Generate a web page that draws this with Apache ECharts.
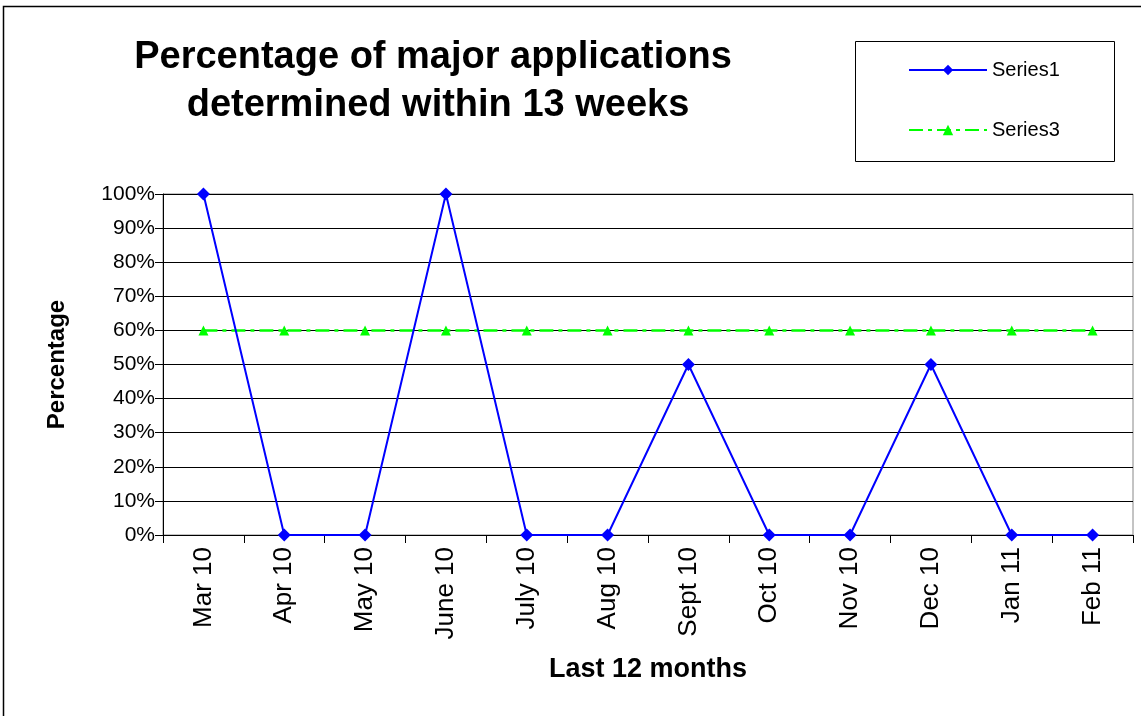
<!DOCTYPE html>
<html>
<head>
<meta charset="utf-8">
<script src="https://cdn.jsdelivr.net/npm/echarts@6/dist/echarts.min.js"></script>
<style>
html,body{margin:0;padding:0;background:#fff;}
#c{width:1141px;height:716px;}
</style>
</head>
<body>
<div id="c"></div>
<script>
const categories = ['Mar 10','Apr 10','May 10','June 10','July 10','Aug 10','Sept 10','Oct 10','Nov 10','Dec 10','Jan 11','Feb 11'];
const series1 = [1, 0, 0, 1, 0, 0, 0.5, 0, 0, 0.5, 0, 0];
const series3 = [0.6, 0.6, 0.6, 0.6, 0.6, 0.6, 0.6, 0.6, 0.6, 0.6, 0.6, 0.6];
const titleLines = ['Percentage of major applications', 'determined within 13 weeks'];
const yAxisTitle = 'Percentage';
const xAxisTitle = 'Last 12 months';

const FONT = 'Liberation Sans, Arial, sans-serif';
const chart = echarts.init(document.getElementById('c'), null, {renderer:'canvas'});
chart.setOption({
  backgroundColor: '#fff',
  animation: false,
  graphic: [
    {type:'rect', shape:{x:3.5, y:6.5, width:1150, height:720}, style:{fill:null, stroke:'#000', lineWidth:1.5}, silent:true},
    {type:'rect', shape:{x:855.5, y:41.5, width:259, height:120}, style:{fill:'#fff', stroke:'#000', lineWidth:1}, z:-1, silent:true},
    {type:'text', x:433, y:58, silent:true,
      style:{text:titleLines[0], fontFamily:FONT, fontSize:38, fontWeight:'bold', fill:'#000', textAlign:'center', textVerticalAlign:'middle'}},
    {type:'text', x:438, y:106, silent:true,
      style:{text:titleLines[1], fontFamily:FONT, fontSize:38, fontWeight:'bold', fill:'#000', textAlign:'center', textVerticalAlign:'middle'}}
  ],
  legend: {
    orient: 'vertical',
    left: 908, top: 59, padding: 0,
    itemWidth: 78, itemHeight: 13,
    itemGap: 38,
    textStyle: {fontFamily: FONT, fontSize: 20, lineHeight: 22, color: '#000'},
    data: ['Series1','Series3']
  },
  grid: {left: 163, right: 8, top: 194, bottom: 181, show: true, borderColor: '#888', borderWidth: 1},
  xAxis: {
    type: 'category',
    data: categories,
    boundaryGap: true,
    name: xAxisTitle,
    nameLocation: 'middle',
    nameGap: 121,
    nameTextStyle: {fontFamily: FONT, fontSize: 27, fontWeight: 'bold', color: '#000'},
    axisLine: {lineStyle: {color: '#000', width: 1}},
    axisTick: {show: true, alignWithLabel: false, length: 8, lineStyle: {color: '#000'}},
    axisLabel: {rotate: 90, margin: 12, fontFamily: FONT, fontSize: 26, color: '#000'},
    splitLine: {show: false}
  },
  yAxis: {
    type: 'value',
    min: 0, max: 1, interval: 0.1,
    name: yAxisTitle,
    nameLocation: 'middle',
    nameGap: 94,
    nameRotate: 90,
    nameTextStyle: {fontFamily: FONT, fontSize: 24, fontWeight: 'bold', color: '#000'},
    axisLine: {show: true, lineStyle: {color: '#000', width: 1}},
    axisTick: {show: true, length: 8, lineStyle: {color: '#000'}},
    axisLabel: {margin: 8, fontFamily: FONT, fontSize: 21, color: '#000',
      formatter: v => Math.round(v*100) + '%'},
    splitLine: {show: true, lineStyle: {color: '#000', width: 1}}
  },
  series: [
    {
      name: 'Series1', type: 'line', data: series1,
      symbol: 'diamond', symbolSize: 13,
      itemStyle: {color: '#0000ff'},
      lineStyle: {color: '#0000ff', width: 2},
      z: 3
    },
    {
      name: 'Series3', type: 'line', data: series3,
      symbol: 'triangle', symbolSize: 10,
      itemStyle: {color: '#00ff00'},
      lineStyle: {color: '#00ff00', width: 2.5, type: [14, 5, 4, 5]},
      z: 2
    }
  ]
});
</script>
</body>
</html>
